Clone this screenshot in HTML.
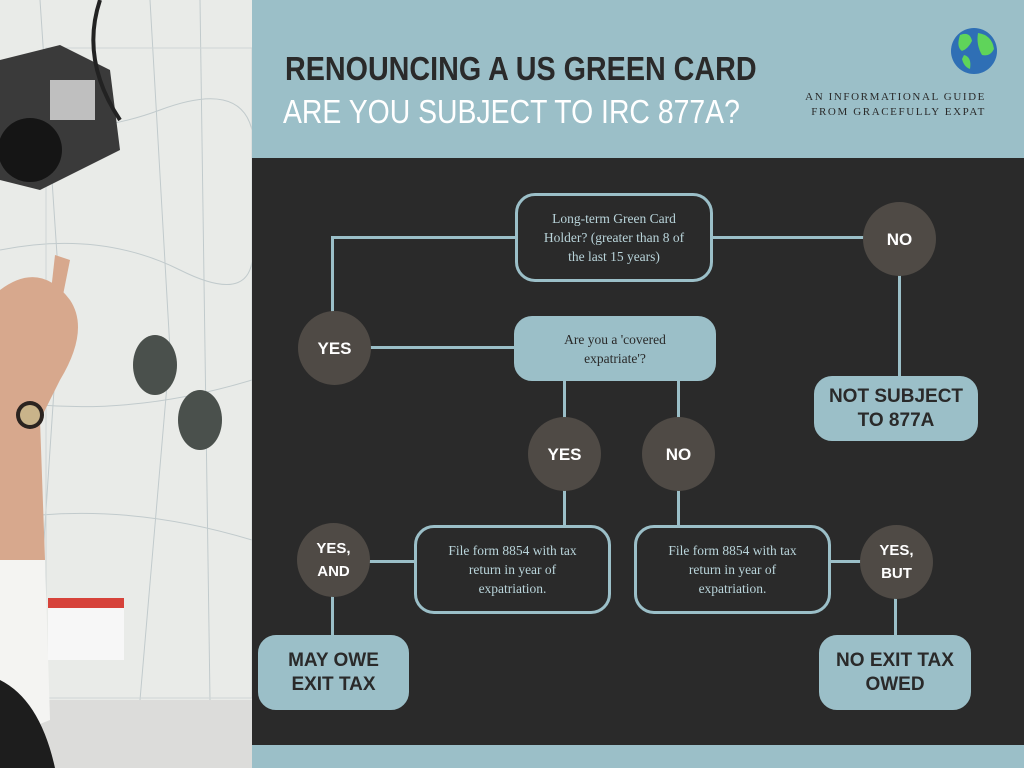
<!DOCTYPE html>
<html><head><style>
body{margin:0;width:1024px;height:768px;overflow:hidden;position:relative;background:#2a2a2a;font-family:"Liberation Sans",sans-serif}
.a{position:absolute}
.hdr{left:252px;top:0;width:772px;height:158px;background:#9bbfc8}
.ftr{left:252px;top:745px;width:772px;height:23px;background:#9bbfc8}
.photo{left:0;top:0;width:252px;height:768px;background:#eceeec;overflow:hidden}
.box{position:absolute;box-sizing:border-box;border:3px solid #9bbfc8;border-radius:20px;display:flex;align-items:center;justify-content:center;text-align:center;font-family:"Liberation Serif",serif;font-size:13.5px;line-height:19px;color:#b9d4da}
.fill{background:#9bbfc8;color:#2a2a2a;border-radius:18px}
.big{font-family:"Liberation Sans",sans-serif;font-weight:bold;font-size:19px;line-height:24px;color:#2a2a2a}
.c{position:absolute;width:73px;height:74px;border-radius:50%;background:#4f4a45;color:#fff;font-weight:bold;font-size:17px;display:flex;align-items:center;justify-content:center;text-align:center;line-height:23px}
.l{position:absolute;background:#9bbfc8}
</style></head><body>
<div class="a photo">
<svg width="252" height="768">
<rect width="252" height="768" fill="#e9ebe8"/>
<g stroke="#b8c3c6" stroke-width="1" fill="none" opacity=".8">
<path d="M0 120 Q80 140 160 110 T252 130"/><path d="M0 250 Q100 230 180 270 T252 240"/>
<path d="M40 0 L60 300 L40 600"/><path d="M150 0 L170 350 L140 700"/><path d="M0 400 Q120 420 252 380"/>
<path d="M0 520 Q120 500 252 540"/><path d="M200 0 L210 700"/>
</g>
<rect x="46" y="48" width="206" height="650" fill="none" stroke="#cfd6d6"/>
<rect x="0" y="700" width="252" height="68" fill="#dcdcda"/>
<path d="M0 60 L60 45 L110 70 L120 150 L40 190 L0 180Z" fill="#3a3a3a"/>
<rect x="50" y="80" width="45" height="40" fill="#bfbfbf"/>
<circle cx="30" cy="150" r="32" fill="#151515"/>
<path d="M100 0 Q80 60 120 120" stroke="#222" stroke-width="4" fill="none"/>
<ellipse cx="155" cy="365" rx="22" ry="30" fill="#4a504c"/><ellipse cx="200" cy="420" rx="22" ry="30" fill="#4a504c"/>
<path d="M0 290 Q40 260 70 300 Q90 330 60 380 L40 420 L45 560 L0 580Z" fill="#d7a88d"/>
<path d="M55 255 L70 260 L62 300 L50 300Z" fill="#d7a88d"/>
<circle cx="30" cy="415" r="14" fill="#2b2420"/><circle cx="30" cy="415" r="10" fill="#c9b48a"/>
<path d="M0 560 L45 560 L50 720 L0 740Z" fill="#f4f4f2"/>
<path d="M0 680 Q40 700 55 768 L0 768Z" fill="#1d1d1d"/>
<rect x="48" y="598" width="76" height="62" fill="#f7f7f7"/><rect x="48" y="598" width="76" height="10" fill="#d6423a"/>
</svg>
</div>
<div class="a hdr"></div>
<div class="a ftr"></div>
<div class="a" style="left:285px;top:50px;font-weight:bold;font-size:33px;color:#2a2a2a;transform:scaleX(0.87);transform-origin:0 0;white-space:nowrap">RENOUNCING A US GREEN CARD</div>
<div class="a" style="left:283px;top:93px;font-size:33px;color:#fff;transform:scaleX(0.86);transform-origin:0 0;white-space:nowrap">ARE YOU SUBJECT TO IRC 877A?</div>
<div class="a" style="right:38px;top:90px;font-family:'Liberation Serif',serif;font-size:11px;letter-spacing:1.6px;color:#2a2a2a;text-align:right;line-height:15px">AN INFORMATIONAL GUIDE<br>FROM GRACEFULLY EXPAT</div>
<svg class="a" style="left:950px;top:27px" width="50" height="48"><ellipse cx="24" cy="24" rx="23" ry="23" fill="#2f6fb5"/><path d="M10 8 Q20 4 22 14 Q18 22 12 24 Q6 20 10 8Z M28 6 Q42 8 44 22 Q40 30 32 28 Q26 18 28 6Z M14 28 Q22 30 20 42 Q14 40 12 32Z" fill="#5fd45a"/></svg>

<div class="l" style="left:331px;top:236px;width:186px;height:3px"></div>
<div class="l" style="left:331px;top:236px;width:3px;height:78px"></div>
<div class="l" style="left:711px;top:236px;width:154px;height:3px"></div>
<div class="l" style="left:898px;top:272px;width:3px;height:106px"></div>
<div class="l" style="left:368px;top:346px;width:148px;height:3px"></div>
<div class="l" style="left:563px;top:378px;width:3px;height:42px"></div>
<div class="l" style="left:677px;top:378px;width:3px;height:42px"></div>
<div class="l" style="left:563px;top:488px;width:3px;height:39px"></div>
<div class="l" style="left:677px;top:488px;width:3px;height:39px"></div>
<div class="l" style="left:368px;top:560px;width:48px;height:3px"></div>
<div class="l" style="left:828px;top:560px;width:34px;height:3px"></div>
<div class="l" style="left:331px;top:594px;width:3px;height:43px"></div>
<div class="l" style="left:894px;top:596px;width:3px;height:41px"></div>

<div class="box" style="left:515px;top:193px;width:198px;height:89px">Long-term Green Card<br>Holder? (greater than 8 of<br>the last 15 years)</div>
<div class="box fill" style="left:514px;top:316px;width:202px;height:65px;color:#2a2a2a">Are you a 'covered<br>expatriate'?</div>
<div class="box" style="left:414px;top:525px;width:197px;height:89px">File form 8854 with tax<br>return in year of<br>expatriation.</div>
<div class="box" style="left:634px;top:525px;width:197px;height:89px">File form 8854 with tax<br>return in year of<br>expatriation.</div>
<div class="box fill big" style="left:814px;top:376px;width:164px;height:65px">NOT SUBJECT<br>TO 877A</div>
<div class="box fill big" style="left:258px;top:635px;width:151px;height:75px">MAY OWE<br>EXIT TAX</div>
<div class="box fill big" style="left:819px;top:635px;width:152px;height:75px">NO EXIT TAX<br>OWED</div>

<div class="c" style="left:863px;top:202px">NO</div>
<div class="c" style="left:298px;top:311px">YES</div>
<div class="c" style="left:528px;top:417px">YES</div>
<div class="c" style="left:642px;top:417px">NO</div>
<div class="c" style="left:297px;top:523px;font-size:15px">YES,<br>AND</div>
<div class="c" style="left:860px;top:525px;font-size:15px">YES,<br>BUT</div>
</body></html>
